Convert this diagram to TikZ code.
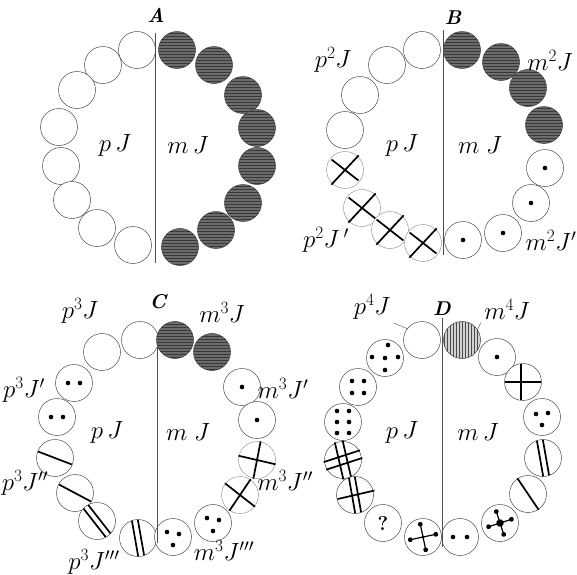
\documentclass[tikz,border=0pt]{standalone}
\usetikzlibrary{patterns}

\begin{document}
\begin{tikzpicture}[x=1pt, y=-1pt,
		cell/.style={draw=black!70, line width=0.5pt, fill=white},
		dark/.style={draw=black!75, line width=0.5pt, preaction={fill=black!58},
			pattern=horizontal lines, pattern color=black!78},
		bar/.style={line width=1.7pt},
		spot/.style={fill=black},
		divider/.style={black!70, line width=0.4pt},
		head/.style={font=\bfseries\itshape\fontsize{20}{20}\selectfont},
		half/.style={font=\fontsize{26}{26}\selectfont},
		side/.style={font=\fontsize{23}{23}\selectfont}]
		\useasboundingbox (0,0) rectangle (577,574);
		\def\rr{18.5}
		% A
		\foreach \x/\y in {137/50,103/65,77/90,59/127,61/166,72/200,97/228,133/245}
			\draw[cell] (\x,\y) circle (\rr);
		\foreach \x/\y in {177/50,214/65,243/95,257/128,257/166,243/203,216/230,180/247}
			\draw[dark] (\x,\y) circle (\rr);
		\draw[divider] (155,33) -- (155,263);
		\node[head] (hA) at (156,15) {A};
		\node[half] (pA) at (115,145) {$p\,J$};
		\node[half] (mA) at (188,145) {$m\,J$};
		% B
		\foreach \x/\y in {422/50,387/65,360/95,345/130}
			\draw[cell] (\x,\y) circle (\rr);
		\foreach \x/\y in {345/170,362/208,390/230,423/243} {
			\draw[cell, draw=black!40] (\x,\y) circle (\rr);
			\draw[bar, shift={(\x,\y)}, rotate=47] (-20,0) -- (20,0);
			\draw[bar, shift={(\x,\y)}, rotate=-38] (-17,0) -- (17,0);
		}
		\foreach \x/\y in {462/50,501/62,528/88,544/125}
			\draw[dark] (\x,\y) circle (\rr);
		\foreach \x/\y in {545/168,531/203,503/233,463/240} {
			\draw[cell] (\x,\y) circle (\rr);
			\fill[spot] (\x,\y) circle (2.3);
		}
		\draw[divider] (443,30) -- (443,255);
		\node[head] (hB) at (453,18) {B};
		\node[side] (p2) at (333,60) {$p^2J$};
		\node[side] (m2) at (550,60) {$m^2J$};
		\node[half] (pB) at (402,145) {$p\,J$};
		\node[half] (mB) at (480,145) {$m\;J$};
		\node[side] (p2b) at (326,240) {$p^2J\,'$};
		\node[side] (m2b) at (551,240) {$m^2J'$};
		% C
		\foreach \x/\y in {140/340,102/352}
			\draw[cell] (\x,\y) circle (\rr);
		\foreach \x/\y in {74/383,57/417} {
			\draw[cell] (\x,\y) circle (\rr);
			\fill[spot] (\x-6,\y) circle (2.3) (\x+6,\y) circle (2.3);
		}
		\foreach \x/\y/\a in {55/458/-21,75/493/-28} {
			\draw[cell] (\x,\y) circle (\rr);
			\draw[bar, shift={(\x,\y)}, rotate=\a] (-18,0) -- (18,0);
		}
		\foreach \x/\y/\a in {97/521/-52,138/538/-80} {
			\draw[cell] (\x,\y) circle (\rr);
			\draw[bar, shift={(\x,\y)}, rotate=\a] (-18,-3) -- (18,-3) (-18,3) -- (18,3);
		}
		\foreach \x/\y in {175/340,212/352}
			\draw[dark] (\x,\y) circle (\rr);
		\foreach \x/\y in {242/387,257/420} {
			\draw[cell] (\x,\y) circle (\rr);
			\fill[spot] (\x,\y) circle (2.3);
		}
		\foreach \x/\y/\a/\b in {257/460/13/101,240/495/38/124} {
			\draw[cell, draw=black!40] (\x,\y) circle (\rr);
			\draw[bar, shift={(\x,\y)}] (\a:19) -- (\a+180:19) (\b:19) -- (\b+180:19);
		}
		\foreach \x/\y in {213/523,173/537} {
			\draw[cell] (\x,\y) circle (\rr);
			\fill[spot] (\x-6,\y-5) circle (2.3) (\x+6,\y-3) circle (2.3) (\x,\y+8) circle (2.3);
		}
		\draw[divider] (157,347) -- (157,543);
		\node[head] (hC) at (158,302) {C};
		\node[side] (p3) at (80,311) {$p^3J$};
		\node[side] (m3) at (222,312) {$m^3J$};
		\node[side] (p3b) at (24,390) {$p^3J'$};
		\node[side] (m3b) at (283,388) {$m^3J'$};
		\node[side] (p3c) at (25,483) {$p^3J''$};
		\node[side] (m3c) at (285,480) {$m^3J''$};
		\node[side] (p3d) at (94,562) {$p^3J'''$};
		\node[side] (m3d) at (224,550) {$m^3J'''$};
		\node[half] (pC) at (107,432) {$p\,J$};
		\node[half] (mC) at (188,432) {$m\;J$};
		% D
		\draw[cell] (422,340) circle (\rr);
		\draw[draw=black!75, line width=0.5pt, preaction={fill=black!18},
			pattern=vertical lines, pattern color=black!70] (462,340) circle (\rr);
		\draw[cell] (385,358) circle (\rr);
		\fill[spot] (388,345) circle (2.3) (372,357) circle (2.3) (385,358) circle (2.3)
			(398,357) circle (2.3) (385,370) circle (2.3);
		\draw[cell] (358,387) circle (\rr);
		\foreach \i in {-6,6} \foreach \j in {-6,6}
			\fill[spot] (358+\i,387+\j) circle (2.3);
		\draw[cell] (343,422) circle (\rr);
		\foreach \i in {-6,6} \foreach \j in {-11,0,11}
			\fill[spot] (343+\i,422+\j) circle (2.3);
		\draw[cell] (343,460) circle (\rr);
		\draw[bar, shift={(343,460)}, rotate=18] (-19,-4) -- (19,-4) (-19,4) -- (19,4);
		\draw[bar, shift={(343,460)}, rotate=103] (-19,-4) -- (19,-4) (-19,4) -- (19,4);
		\draw[cell] (355,495) circle (\rr);
		\draw[bar, shift={(355,495)}, rotate=100] (-18,-3) -- (18,-3) (-18,3) -- (18,3);
		\draw[bar, shift={(355,495)}, rotate=13] (-18,0) -- (20,0);
		\draw[cell] (383,523) circle (\rr);
		\node[font=\bfseries\fontsize{20}{20}\selectfont] (qm) at (383,523) {?};
		\draw[cell] (423,537) circle (\rr);
		\begin{scope}[shift={(423,537)}, rotate=12]
			\draw[line width=1.2pt] (-13,0) -- (13,0) (0,-13) -- (0,13);
			\fill[spot] (-13,0) circle (2.4) (13,0) circle (2.4) (0,-13) circle (2.4)
				(0,13) circle (2.4) (0,0) circle (1.8);
		\end{scope}
		\draw[cell] (497,357) circle (\rr);
		\fill[spot] (497,357) circle (2.3);
		\draw[cell] (523,382) circle (\rr);
		\draw[bar] (505,382) -- (541,382) (521,364) -- (521,400);
		\draw[cell] (542,417) circle (\rr);
		\fill[spot] (536,414) circle (2.3) (548,413) circle (2.3) (542,425) circle (2.3);
		\draw[cell] (543,458) circle (\rr);
		\draw[bar, shift={(543,458)}, rotate=100] (-18,-3) -- (18,-3) (-18,3) -- (18,3);
		\draw[cell] (528,494) circle (\rr);
		\draw[bar, shift={(528,494)}, rotate=124] (-19,0) -- (19,0);
		\draw[cell] (500,523) circle (\rr);
		\begin{scope}[shift={(500,523)}, rotate=18]
			\draw[line width=1.2pt] (-12,0) -- (12,0) (0,-12) -- (0,12);
			\fill[spot] (-12,0) circle (2.4) (12,0) circle (2.4) (0,-12) circle (2.4)
				(0,12) circle (2.4) (0,0) circle (3.8);
		\end{scope}
		\draw[cell] (460,537) circle (\rr);
		\fill[spot] (453,537) circle (2.3) (467,537) circle (2.3);
		\draw[divider] (442,318) -- (442,547);
		\node[head] (hD) at (442,309) {D};
		\node[side] (p4) at (372,307) {$p^4J$};
		\node[side] (m4) at (507,309) {$m^4J$};
		\coordinate (p4end) at (408,329);
		\coordinate (m4end) at (477,331);
		\draw[black!70, line width=0.4pt] (p4.south east) -- (p4end);
		\draw[black!70, line width=0.4pt] (m4.south west) -- (m4end);
		\node[half] (pD) at (402,432) {$p\,J$};
		\node[half] (mD) at (478,432) {$m\,J$};
	\end{tikzpicture}
\end{document}
